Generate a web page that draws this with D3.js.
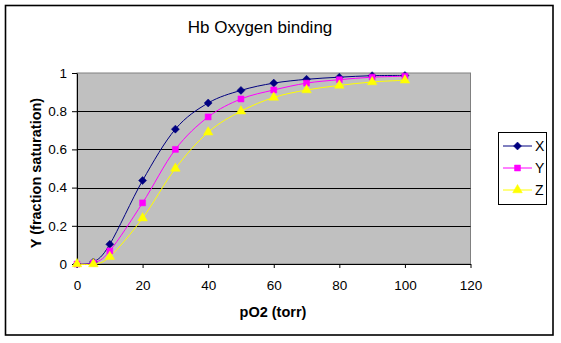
<!DOCTYPE html>
<html><head><meta charset="utf-8">
<script src="https://cdn.jsdelivr.net/npm/d3@7"></script>
<style>body{margin:0;background:#fff}svg{display:block;font-family:Arial,"Liberation Sans",sans-serif}</style>
</head><body>
<script>
const pO2 = [0, 5, 10, 20, 30, 40, 50, 60, 70, 80, 90, 100];
const seriesX = [0, 0.01, 0.103, 0.437, 0.706, 0.843, 0.909, 0.947, 0.967, 0.978, 0.986, 0.987];
const seriesY = [0, 0.005, 0.068, 0.32, 0.60, 0.77, 0.864, 0.911, 0.947, 0.965, 0.978, 0.983];
const seriesZ = [0, 0, 0.038, 0.24, 0.50, 0.69, 0.80, 0.872, 0.911, 0.935, 0.953, 0.962];
const seriesNames = ["X", "Y", "Z"];
const xTicks = [0, 20, 40, 60, 80, 100, 120];
const yTicks = [0, 0.2, 0.4, 0.6, 0.8, 1];
const colors = ["#000080", "#FF00FF", "#FFFF00"];

const diamond = { draw(ctx, size) { const r = Math.sqrt(size) / 2; ctx.moveTo(0, -r); ctx.lineTo(r, 0); ctx.lineTo(0, r); ctx.lineTo(-r, 0); ctx.closePath(); } };
const symbols = [diamond, d3.symbolSquare, d3.symbolTriangle];
const symSizes = [64, 36, 40];

const W = 561, H = 343;
const svg = d3.select("body").append("svg").attr("width", W).attr("height", H);

// chart border
svg.append("rect").attr("x", 5.5).attr("y", 5.5).attr("width", 547.5).attr("height", 329.5)
  .attr("fill", "#fff").attr("stroke", "#000").attr("stroke-width", 1.6);

const L = 77, R = 470.5, T = 73, B = 264;
const x = d3.scaleLinear().domain([0, 120]).range([L, R]);
const y = d3.scaleLinear().domain([0, 1]).range([B, T]);

svg.append("rect").attr("x", L).attr("y", T).attr("width", R - L).attr("height", B - T)
  .attr("fill", "#C0C0C0").attr("stroke", "#808080").attr("stroke-width", 1);

// gridlines
svg.append("g").selectAll("line").data(yTicks.filter(d => d > 0 && d < 1)).join("line")
  .attr("x1", L).attr("x2", R).attr("y1", d => Math.round(y(d)) + 0.5).attr("y2", d => Math.round(y(d)) + 0.5)
  .attr("stroke", "#000").attr("stroke-width", 1);

// axes
const xAxis = svg.append("g").attr("transform", `translate(0,${B})`)
  .call(d3.axisBottom(x).tickValues(xTicks).tickSize(4).tickSizeOuter(0).tickPadding(12).tickFormat(d3.format("d")));
const yAxis = svg.append("g").attr("transform", `translate(${L},0)`)
  .call(d3.axisLeft(y).tickValues(yTicks).tickSize(5).tickSizeOuter(0).tickPadding(5).tickFormat(d => d === 0 || d === 1 ? d3.format("d")(d) : d3.format(".1f")(d)));
[xAxis, yAxis].forEach(a => {
  a.selectAll("path.domain").attr("stroke", "#000").attr("stroke-width", 1);
  a.selectAll(".tick line").attr("stroke", "#000");
  a.selectAll("text").attr("font-size", 13.5).attr("font-family", "Arial, 'Liberation Sans', sans-serif").attr("fill", "#000");
});

const allSeries = [seriesX, seriesY, seriesZ];
const line = d3.line().x((d, i) => x(pO2[i])).y(d => y(d)).curve(d3.curveCardinal.tension(0));

allSeries.forEach((vals, k) => {
  svg.append("path").datum(vals).attr("d", line).attr("fill", "none")
    .attr("stroke", colors[k]).attr("stroke-width", 1);
});
allSeries.forEach((vals, k) => {
  svg.append("g").selectAll("path").data(vals).join("path")
    .attr("transform", (d, i) => `translate(${x(pO2[i])},${y(d)})`)
    .attr("d", d3.symbol(symbols[k], symSizes[k]))
    .attr("fill", colors[k]).attr("stroke", colors[k]).attr("stroke-width", 0.5);
});

// title
svg.append("text").attr("x", 260).attr("y", 33).attr("text-anchor", "middle")
  .attr("font-size", 17).attr("fill", "#000").text("Hb Oxygen binding");
// axis titles
svg.append("text").attr("x", 273).attr("y", 317).attr("text-anchor", "middle")
  .attr("font-size", 14.5).attr("font-weight", "bold").text("pO2 (torr)");
svg.append("text").attr("transform", "translate(41,173) rotate(-90)").attr("text-anchor", "middle")
  .attr("font-size", 14.5).attr("font-weight", "bold").text("Y (fraction saturation)");

// legend
const lg = svg.append("g");
lg.append("rect").attr("x", 498.5).attr("y", 132.5).attr("width", 48).attr("height", 72)
  .attr("fill", "#fff").attr("stroke", "#000").attr("stroke-width", 1);
seriesNames.forEach((n, k) => {
  const cy = 146 + k * 22;
  lg.append("line").attr("x1", 503).attr("x2", 532).attr("y1", cy).attr("y2", cy)
    .attr("stroke", colors[k]).attr("stroke-width", 1);
  lg.append("path").attr("transform", `translate(517.5,${cy})`)
    .attr("d", d3.symbol(symbols[k], symSizes[k])).attr("fill", colors[k]).attr("stroke", colors[k]).attr("stroke-width", 0.5);
  lg.append("text").attr("x", 535).attr("y", cy + 5).attr("font-size", 14).attr("fill", "#000").text(n);
});
</script>
</body></html>
